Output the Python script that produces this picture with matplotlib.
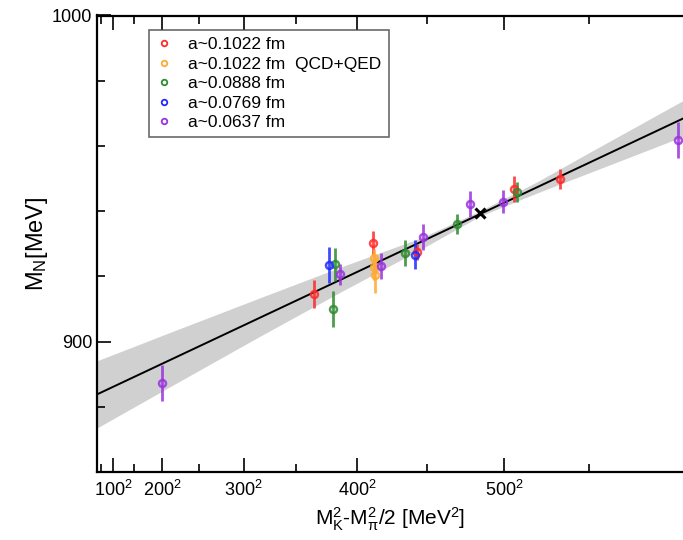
import matplotlib
matplotlib.use("Agg")
import matplotlib.pyplot as plt
from matplotlib.lines import Line2D
from matplotlib.ticker import FixedLocator, MultipleLocator

plt.rcParams['font.family'] = ['Liberation Sans', 'DejaVu Sans']
plt.rcParams['mathtext.fontset'] = 'custom'
plt.rcParams['mathtext.rm'] = 'Liberation Sans'
plt.rcParams['mathtext.it'] = 'Liberation Sans'

# ---- data (x in MeV^2, y in MeV) ----
red_x = [133300, 169500, 196700, 256400, 284700]
red_y = [914.6, 930.3, 927.5, 946.7, 949.8]
red_e = [4.3, 3.7, 2.5, 4.0, 3.0]

orange_x = [169900, 170000, 170600]
orange_y = [925.5, 923.0, 920.5]
orange_e = [3.0, 4.0, 5.5]

green_x = [146000, 145000, 189000, 221000, 257800]
green_y = [923.7, 909.9, 927.2, 936.0, 945.9]
green_e = [5.0, 5.5, 4.0, 3.0, 3.0]

blue_x = [142500, 195100]
blue_y = [923.5, 926.7]
blue_e = [5.4, 4.5]

purple_x = [39700, 149500, 174200, 200200, 229400, 249700, 357200]
purple_y = [887.2, 920.7, 923.2, 932.1, 942.2, 942.9, 961.8]
purple_e = [5.5, 3.2, 4.0, 4.0, 4.0, 3.5, 5.5]

phys_x = [235400]
phys_y = [939.3]

fit_x = [0, 360000]
fit_y = [883.8, 968.4]

band_x = [0, 50000, 100000, 150000, 200000, 235400, 270000, 300000, 360000]
band_lo = [873.5, 887.6, 901.6, 915.3, 928.6, 938.5, 945.5, 951.3, 962.9]
band_hi = [894.1, 903.8, 913.4, 922.9, 932.0, 940.1, 948.9, 957.3, 973.9]

series = [
    ("a~0.1022 fm", "#ff2a2a", red_x, red_y, red_e),
    ("a~0.1022 fm  QCD+QED", "#ffaa33", orange_x, orange_y, orange_e),
    ("a~0.0888 fm", "#2e8b2e", green_x, green_y, green_e),
    ("a~0.0769 fm", "#1f2aff", blue_x, blue_y, blue_e),
    ("a~0.0637 fm", "#9933dd", purple_x, purple_y, purple_e),
]

xtick_vals = [100**2, 200**2, 300**2, 400**2, 500**2]
xtick_labels = ["100$^2$", "200$^2$", "300$^2$", "400$^2$", "500$^2$"]
xminor_vals = [50**2, 150**2, 250**2, 350**2, 450**2, 550**2]
ytick_vals = [900, 1000]

fig = plt.figure(figsize=(6.83, 5.40), dpi=100)
ax = fig.add_axes([97/683, 1 - 472/540, 1 - 97/683, (472 - 15.5)/540])

ax.fill_between(band_x, band_lo, band_hi, color="#d0d0d0", lw=0, zorder=1)
ax.plot(fit_x, fit_y, color="black", lw=1.4, zorder=2)

for label, col, xs, ys, es in series:
    ax.errorbar(xs, ys, yerr=es, fmt='o', color=col, ecolor=col, elinewidth=2.0,
                capsize=0, ms=5, mfc='none', mec=col, mew=1.8, alpha=0.85, zorder=3,
                clip_on=True)

ax.plot(phys_x, phys_y, marker='x', color='black', ms=7, mew=2.2, ls='none', zorder=5)

ax.set_xlim(0, 360000)
ax.set_ylim(860, 1000)

ax.xaxis.set_major_locator(FixedLocator(xtick_vals))
ax.set_xticklabels(xtick_labels, fontsize=13)
ax.xaxis.set_minor_locator(FixedLocator(xminor_vals))
ax.yaxis.set_major_locator(FixedLocator(ytick_vals))
ax.yaxis.set_minor_locator(MultipleLocator(20))
ax.tick_params(axis='y', labelsize=13)
ax.tick_params(which='both', direction='in', top=True, right=False, width=1.2)
ax.tick_params(which='major', length=10)
ax.tick_params(which='minor', length=6)
ax.tick_params(axis='x', pad=6)
for sp in ax.spines.values():
    sp.set_linewidth(1.6)
ax.spines['right'].set_visible(False)

ax.set_xlabel("M$_K^2$-M$_\\pi^2$/2 [MeV$^2$]", fontsize=15, labelpad=4)
ax.set_ylabel("M$_N$[MeV]", fontsize=17, labelpad=1)

handles = [Line2D([], [], marker='o', ls='none', color=col, mfc='none', mec=col,
                  ms=4, mew=1.3) for _, col, *_ in series]
labels = [s[0] for s in series]
leg = ax.legend(handles, labels, loc='upper left', bbox_to_anchor=(0.088, 0.968),
                fontsize=12.5, frameon=True, fancybox=False, edgecolor='#444444',
                handlelength=1.0, handletextpad=0.9, labelspacing=0.25,
                borderpad=0.4, borderaxespad=0)
leg.get_frame().set_linewidth(1.2)

fig.savefig("out.png", dpi=100)
